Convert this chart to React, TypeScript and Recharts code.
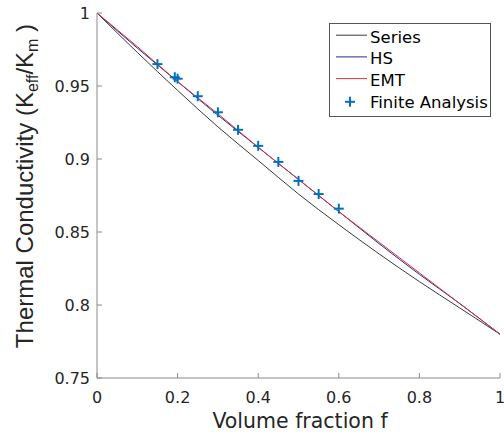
import {
  ComposedChart,
  Label,
  Legend,
  Line,
  Scatter,
  XAxis,
  YAxis,
} from "recharts";

// volume fraction grid used for the model curves
const F_GRID = [0, 0.1, 0.2, 0.3, 0.4, 0.5, 0.6, 0.7, 0.8, 0.9, 1];
const SERIES_K = [1, 0.973, 0.947, 0.922, 0.899, 0.876, 0.855, 0.835, 0.816, 0.798, 0.78];
const HS_K = [1, 0.976, 0.953, 0.93, 0.908, 0.886, 0.864, 0.842, 0.821, 0.801, 0.78];
const EMT_K = [1, 0.977, 0.953, 0.931, 0.908, 0.886, 0.864, 0.843, 0.822, 0.801, 0.78];

// finite analysis samples
const FEA_F = [0.15, 0.193, 0.2, 0.25, 0.3, 0.35, 0.4, 0.45, 0.5, 0.55, 0.6];
const FEA_K = [0.965, 0.956, 0.955, 0.943, 0.932, 0.92, 0.909, 0.898, 0.885, 0.876, 0.866];

const X_TICKS = [0, 0.2, 0.4, 0.6, 0.8, 1];
const Y_TICKS = [0.75, 0.8, 0.85, 0.9, 0.95, 1];

const LEGEND_NAMES = ["Series", "HS", "EMT", "Finite Analysis"];

const C_SERIES = "#3a3a3a";
const C_HS = "#2a2a8c";
const C_EMT = "#d9323c";
const C_FEA = "#0072bd";
const AXIS = "#8a8a8a";
const TXT = "#262626";
const WIDE = "'DejaVu Sans', sans-serif";
const ARIAL = "'Liberation Sans', Arial, sans-serif";

const seriesData = F_GRID.map((f, i) => ({ f, v: SERIES_K[i] }));
const hsData = F_GRID.map((f, i) => ({ f, v: HS_K[i] }));
const emtData = F_GRID.map((f, i) => ({ f, v: EMT_K[i] }));
const feaData = FEA_F.map((f, i) => ({ f, v: FEA_K[i] }));

const XTick = ({ x, y, payload }: any) => (
  <g>
    <line x1={x} x2={x} y1={y} y2={y - 5} stroke={AXIS} />
    <text x={x} y={y + 25} textAnchor="middle" fontSize={16} fill={TXT} fontFamily={WIDE}>
      {payload.value}
    </text>
  </g>
);

const YTick = ({ x, y, payload }: any) => (
  <g>
    <line x1={x} x2={x + 5} y1={y} y2={y} stroke={AXIS} />
    <text x={x - 7} y={y} dy="0.36em" textAnchor="end" fontSize={16} fill={TXT} fontFamily={WIDE}>
      {payload.value}
    </text>
  </g>
);

const Plus = ({ cx, cy }: any) => (
  <g stroke={C_FEA} strokeWidth={2}>
    <line x1={cx - 5} x2={cx + 5} y1={cy} y2={cy} />
    <line x1={cx} x2={cx} y1={cy - 5} y2={cy + 5} />
  </g>
);

const YLabel = () => (
  <text
    transform="translate(33,186) rotate(-90)"
    textAnchor="middle"
    fontSize={24}
    fill={TXT}
    fontFamily={ARIAL}
  >
    Thermal Conductivity (K
    <tspan fontSize={16} dy={5}>eff</tspan>
    <tspan dy={-5}>/K</tspan>
    <tspan fontSize={16} dy={5}>m</tspan>
    <tspan dy={-5}> )</tspan>
  </text>
);

const XLabel = () => (
  <text x={300} y={428} textAnchor="middle" fontSize={20.5} fill={TXT} fontFamily={WIDE}>
    Volume fraction f
  </text>
);

const LegendBox = () => {
  const colors = [C_SERIES, C_HS, C_EMT];
  return (
    <svg width={162} height={94} style={{ display: "block" }}>
      <rect x={0.5} y={0.5} width={161} height={93} fill="#fff" stroke="#555" />
      {LEGEND_NAMES.map((name, i) => {
        const y = 13.7 + i * 21.7;
        return (
          <g key={name}>
            {i < 3 ? (
              <line x1={7} x2={38} y1={y - 1.5} y2={y - 1.5} stroke={colors[i]} />
            ) : (
              <Plus cx={21} cy={y} />
            )}
            <text x={41} y={y} dy="0.36em" fontSize={16.5} fill="#000" fontFamily={WIDE}>
              {name}
            </text>
          </g>
        );
      })}
    </svg>
  );
};

export default function App() {
  return (
    <div style={{ position: "absolute", left: 0, top: 0, background: "#fff" }}>
      <ComposedChart
        width={504}
        height={432}
        margin={{ top: 13, right: 4, bottom: 0, left: 0 }}
      >
        <XAxis
          type="number"
          dataKey="f"
          domain={[0, 1]}
          ticks={X_TICKS}
          height={54}
          tickSize={0}
          tickMargin={0}
          tick={<XTick />}
          tickLine={false}
          axisLine={{ stroke: AXIS }}
          allowDataOverflow
        >
          <Label content={<XLabel />} />
        </XAxis>
        <YAxis
          type="number"
          domain={[0.75, 1]}
          ticks={Y_TICKS}
          width={97}
          tickSize={0}
          tickMargin={0}
          tick={<YTick />}
          tickLine={false}
          axisLine={{ stroke: AXIS }}
          allowDataOverflow
        >
          <Label content={<YLabel />} />
        </YAxis>
        <Legend
          layout="vertical"
          align="center"
          verticalAlign="middle"
          wrapperStyle={{ top: 23, left: 329, width: 162, height: 94 }}
          content={<LegendBox />}
        />
        <Line data={seriesData} dataKey="v" type="monotone" stroke={C_SERIES} strokeWidth={1} dot={false} isAnimationActive={false} />
        <Line data={hsData} dataKey="v" type="monotone" stroke={C_HS} strokeWidth={1} dot={false} isAnimationActive={false} />
        <Line data={emtData} dataKey="v" type="monotone" stroke={C_EMT} strokeWidth={1} dot={false} isAnimationActive={false} />
        <Scatter data={feaData} dataKey="v" shape={<Plus />} isAnimationActive={false} />
      </ComposedChart>
    </div>
  );
}
